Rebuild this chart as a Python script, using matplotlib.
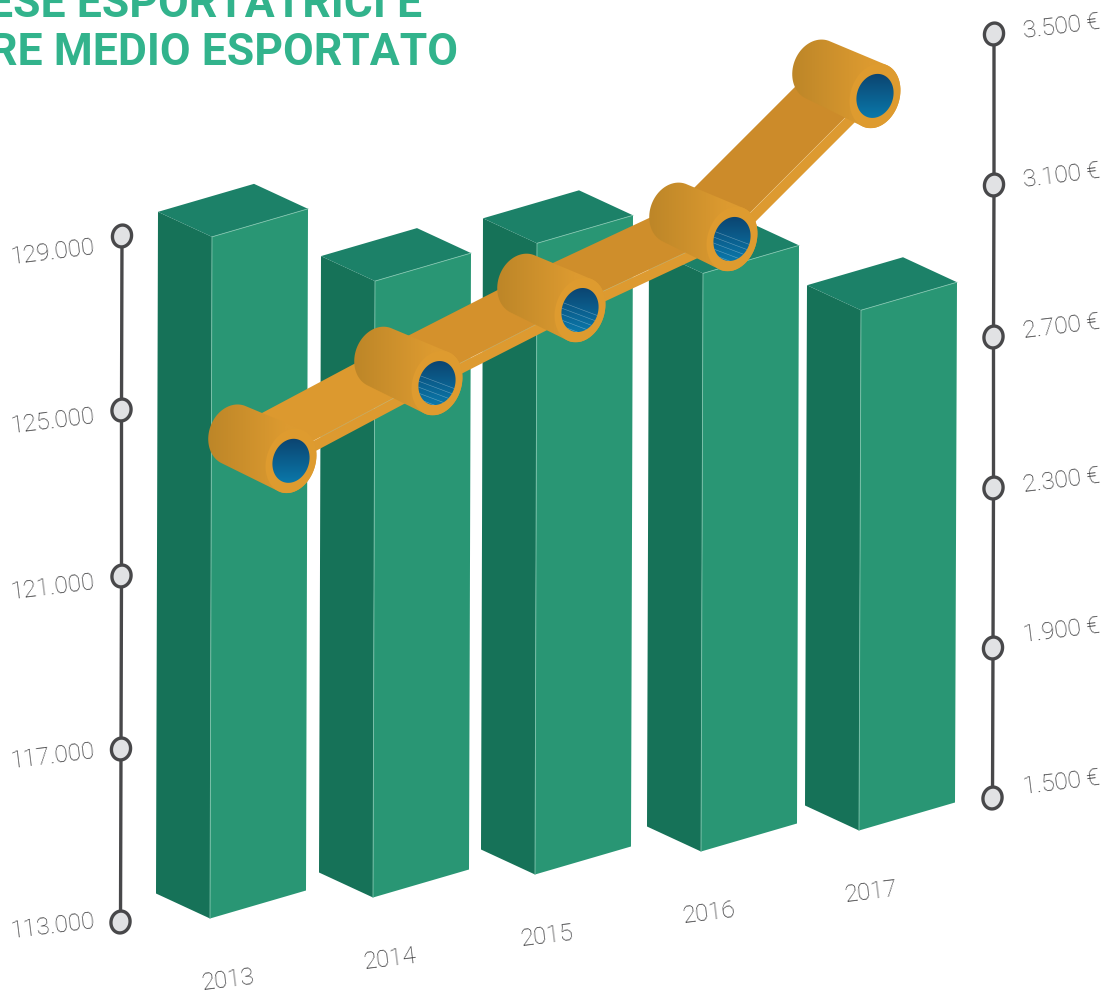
import matplotlib
matplotlib.use('Agg')
import matplotlib.pyplot as plt
from matplotlib.patches import Polygon
import numpy as np

# data
years = ['2013', '2014', '2015', '2016', '2017']
imprese = [128900, 127400, 127740, 126520, 125190]
valore_medio = [2372, 2578, 2771, 2958, 3336]

left_ticks = [113000, 117000, 121000, 125000, 129000]
left_labels = ['113.000', '117.000', '121.000', '125.000', '129.000']
right_ticks = [1500, 1900, 2300, 2700, 3100, 3500]
right_labels = ['1.500 €', '1.900 €', '2.300 €', '2.700 €', '3.100 €', '3.500 €']
title_lines = ['ESE ESPORTATRICI E', 'RE MEDIO ESPORTATO']

# layout of the drawing, in pixels
W, H = 1109, 997
left_px = [922, 749, 576, 410, 236]
left_x = [120.5, 121, 121.5, 121.5, 122]
left_label_y = [921, 751, 582, 416, 247]
right_px = [798, 648, 488, 337, 185, 34]
right_x = [992.5, 993, 993.5, 993.5, 994, 994]
right_label_y = [788, 636, 486, 332, 181, 32]
bar_x = [210, 373, 535, 701, 859]
bar_y = [918.5, 897.5, 874.5, 851.5, 830.5]
year_x = [228, 390, 547, 709, 871]
line_x = [291, 437, 580, 732, 875]
beam_colors = ['#dc992f', '#d4912c', '#cf8e2b', '#cc8b2a']
hatch_holes = [1, 2, 3]

DARK = '#167258'
MID = '#299674'
TOP = '#1c8168'
SEAM = '#7fc4ad'
GREY = '#48484a'
TEXT = '#333335'
DEPTH = (-57, -26)

plt.rcParams['font.family'] = ['Roboto', 'DejaVu Sans']

fig = plt.figure(figsize=(W / 100, H / 100), dpi=100)
ax = fig.add_axes([0, 0, 1, 1])


def ell(cx, cy, rx, ry, tilt=18, n=80):
    t = np.linspace(0, 2 * np.pi, n, endpoint=False)
    th = np.radians(tilt)
    x = cx + rx * np.cos(t) * np.cos(th) - ry * np.sin(t) * np.sin(th)
    y = cy + rx * np.cos(t) * np.sin(th) + ry * np.sin(t) * np.cos(th)
    return np.column_stack([x, y])


def hull(pts):
    pts = sorted(map(tuple, pts))
    def half(seq):
        out = []
        for p in seq:
            while len(out) > 1 and np.cross(np.subtract(out[-1], out[-2]), np.subtract(p, out[-1])) <= 0:
                out.pop()
            out.append(p)
        return out[:-1]
    return np.array(half(pts) + half(pts[::-1]))


def gradient_fill(pts, c1, c2, vertical=False, zorder=5, stop=1.0):
    # gradient image clipped to a polygon
    pts = np.asarray(pts)
    c1 = np.array(matplotlib.colors.to_rgb(c1))
    c2 = np.array(matplotlib.colors.to_rgb(c2))
    k = np.minimum(np.linspace(0, 1, 64) / stop, 1)[:, None]
    img = c1 * (1 - k) + c2 * k
    img = img[:, None, :] if vertical else img[None, :, :]
    ext = [pts[:, 0].min(), pts[:, 0].max(), pts[:, 1].max(), pts[:, 1].min()]
    im = ax.imshow(img, extent=ext, aspect='auto', zorder=zorder, interpolation='bilinear')
    im.set_clip_path(Polygon(pts, transform=ax.transData))


# bars
for i, v in enumerate(imprese):
    h = left_px[0] - np.interp(v, left_ticks, left_px)
    fx, fy = bar_x[i], bar_y[i]
    tx, ty = fx + 2, fy - h
    ldx, ldy = -54, -25
    rdx, rdy = 96, -28
    ax.add_patch(Polygon([(fx, fy), (fx + ldx, fy + ldy), (tx + ldx, ty + ldy), (tx, ty)], fc=DARK, ec='none', zorder=1))
    ax.add_patch(Polygon([(fx, fy), (fx + rdx, fy + rdy), (tx + rdx, ty + rdy), (tx, ty)], fc=MID, ec='none', zorder=1))
    ax.add_patch(Polygon([(tx, ty), (tx + ldx, ty + ldy), (tx + ldx + rdx, ty + ldy + rdy), (tx + rdx, ty + rdy)], fc=TOP, ec='none', zorder=1))
    ax.plot([fx, tx, tx + rdx], [fy, ty, ty + rdy], color=SEAM, lw=0.6, zorder=2)

# line of the mean exported value
line_y = np.interp(valore_medio, right_ticks, right_px)
for i in range(len(line_x) - 1):
    x0, y0, x1, y1 = line_x[i], line_y[i], line_x[i + 1], line_y[i + 1]
    s = (y1 - y0) / (x1 - x0)
    t = 10 * np.sqrt(1 + s * s)
    ax.add_patch(Polygon([(x0, y0 - 8), (x1, y1 - 8), (x1 - 55, y1 - 34), (x0 - 55, y0 - 34)], fc=beam_colors[i], ec='none', zorder=4))
    ax.add_patch(Polygon([(x0, y0 - 8), (x1, y1 - 8), (x1, y1 - 8 + t), (x0, y0 - 8 + t)], fc='#dd9a30', ec='none', zorder=4))
    ax.plot([x0, x1], [y0 - 8, y1 - 8], color='#ecc88a', lw=0.4, alpha=0.7, zorder=4)

for i, (x, y) in enumerate(zip(line_x, line_y)):
    z = 5 + i * 0.01
    outer = ell(x, y, 24.5, 33)
    back = ell(x + DEPTH[0], y + DEPTH[1], 25, 31, tilt=20)
    gradient_fill(hull(np.vstack([outer, back])), '#bd8628', '#dc9a30', zorder=z, stop=0.7)
    ax.add_patch(Polygon(outer, fc='#de9b2f', ec='none', zorder=z + 0.001))
    hole = ell(x, y, 18, 22.5, tilt=20)
    gradient_fill(hole, '#0c4470', '#0a78aa', vertical=True, zorder=z + 0.002)
    if i in hatch_holes:
        clip = Polygon(hole, transform=ax.transData)
        for k in range(6):
            ln, = ax.plot([x - 24, x + 24], [y - 10 + k * 6, y + 8 + k * 6], color='white', lw=0.4, alpha=0.35, zorder=z + 0.003)
            ln.set_clip_path(clip)

# the two axes
ax.plot(left_x, left_px, color=GREY, lw=2.4, zorder=3, solid_capstyle='butt')
ax.plot(right_x, right_px, color=GREY, lw=2.4, zorder=3, solid_capstyle='butt')
for xs, ys in [(left_x, left_px), (right_x, right_px)]:
    for x, y in zip(xs, ys):
        ax.add_patch(Polygon(ell(x, y, 9.5, 11, tilt=12), fc='#e1e2e4', ec=GREY, lw=2.4, zorder=3.5))

text_style = dict(color=TEXT, fontsize=17.5, fontweight='light', rotation=7, rotation_mode='anchor', va='center')
for lab, y in zip(left_labels, left_label_y):
    ax.text(95, y, lab, ha='right', **text_style)
for lab, y in zip(right_labels, right_label_y):
    ax.text(1023, y, lab, ha='left', **text_style)
for i, lab in enumerate(years):
    ax.text(year_x[i], bar_y[i] + 62, lab, ha='center', **text_style)

ax.text(422, 17, title_lines[0], ha='right', va='baseline', color='#32b38c', fontsize=32, fontweight=600)
ax.text(458, 65, title_lines[1], ha='right', va='baseline', color='#32b38c', fontsize=32, fontweight=600)

ax.set_xlim(0, W)
ax.set_ylim(H, 0)
ax.axis('off')
fig.savefig('out.png', dpi=100)
